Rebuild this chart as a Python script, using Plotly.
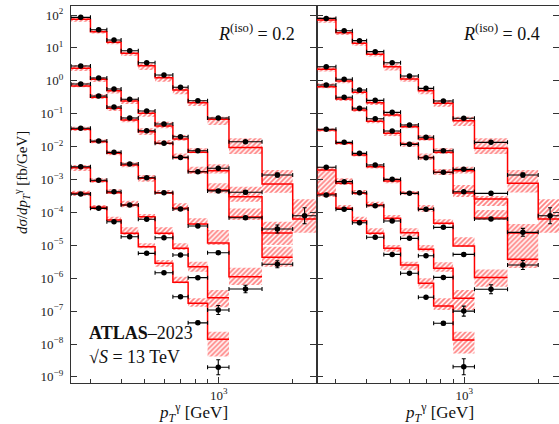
import math
import plotly.graph_objects as go

# ---------------- data ----------------
bin_edges = [250, 300, 350, 400, 470, 550, 650, 750, 900, 1100, 1500, 2000, 2500]

y_tickvals = [1e2, 1e1, 1e0, 1e-1, 1e-2, 1e-3, 1e-4, 1e-5, 1e-6, 1e-7, 1e-8, 1e-9]
y_ticktext = ["10<sup>2</sup>", "10<sup>1</sup>", "10<sup>0</sup>", "10<sup>\u22121</sup>",
              "10<sup>\u22122</sup>", "10<sup>\u22123</sup>", "10<sup>\u22124</sup>",
              "10<sup>\u22125</sup>", "10<sup>\u22126</sup>", "10<sup>\u22127</sup>",
              "10<sup>\u22128</sup>", "10<sup>\u22129</sup>"]
x_tickvals = [1000]
x_ticktext = ["10<sup>3</sup>"]
x_minor_ticks = [300, 400, 500, 600, 700, 800, 900, 2000]

# ---- R(iso) = 0.2 : data, theory, theory band up/down (%), data error (%)
d02A = [85, 35.7, 17.4, 8.2, 3.55, 1.50, 0.635, 0.248, 0.074, 0.0141, 1.37e-3, 7.9e-5]
t02A = [74, 31, 14.8, 6.85, 2.88, 1.24, 0.525, 0.216, 0.0676, 9.4e-3, 7.3e-4, 6.3e-5]
u02A = [15, 18, 17, 12, 18, 21, 26, 21, 20, 90, 166, 297]
n02A = [15, 11, 13, 17, 26, 24, 26, 21, 33, 37, 46, 62]
e02A = [2, 2, 2, 2, 2, 3, 3, 3, 4, 8, 15, 75]

d02B = [2.82, 1.22, 0.564, 0.274, 0.121, 0.0486, 0.0200, 7.5e-3, 2.19e-3, 4.1e-4, 3.13e-5]
t02B = [2.40, 1.11, 0.500, 0.243, 0.103, 0.0423, 0.0170, 6.7e-3, 1.85e-3, 3.0e-4, 2.37e-5]
u02B = [26, 17, 21, 17, 23, 35, 32, 32, 57, 101, 121]
n02B = [17, 17, 17, 19, 21, 15, 11, 7, 17, 30, 57]
e02B = [2, 2, 2, 2, 3, 3, 3, 4, 6, 12, 32]

d02C = [0.80, 0.345, 0.160, 0.074, 0.0304, 0.0126, 4.7e-3, 1.73e-3, 4.5e-4, 6.9e-5, 2.65e-6]
t02C = [0.695, 0.315, 0.146, 0.0644, 0.0284, 0.0126, 4.7e-3, 1.73e-3, 4.8e-4, 7.2e-5, 4.3e-6]
u02C = [26, 26, 20, 23, 27, 26, 32, 42, 60, 84, 110]
n02C = [9, 11, 17, 15, 21, 11, 11, 15, 21, 19, 48]
e02C = [2, 2, 2, 2, 3, 3, 4, 5, 8, 10, 28]

d02D = [0.036, 0.0148, 6.7e-3, 2.96e-3, 1.13e-3, 3.97e-4, 1.27e-4, 3.86e-5, 5.96e-6, 4.7e-7]
t02D = [0.0336, 0.0141, 6.25e-3, 2.76e-3, 1.09e-3, 3.9e-4, 1.33e-4, 4.45e-5, 1.17e-5, 1.11e-6]
u02D = [20, 18, 20, 23, 26, 23, 42, 49, 149, 88]
n02D = [11, 11, 13, 15, 21, 7, 15, 7, 13, 44]
e02D = [2, 2, 2, 3, 3, 4, 5, 6, 10, 30]

d02E = [2.45e-3, 9.5e-4, 4.26e-4, 1.68e-4, 6.2e-5, 1.70e-5, 5.1e-6, 1.04e-6, 1.08e-7]
t02E = [2.29e-3, 9.0e-4, 3.97e-4, 1.68e-4, 7.4e-5, 2.32e-5, 8.1e-6, 2.24e-6, 2.55e-7]
u02E = [21, 21, 27, 35, 21, 52, 42, 42, 71]
n02E = [21, 11, 9, 15, 21, 11, 11, 30, 49]
e02E = [2, 2, 3, 3, 4, 5, 6, 8, 37]

d02F = [3.6e-4, 1.33e-4, 5.2e-5, 1.82e-5, 5.7e-6, 1.47e-6, 2.74e-7, 4.4e-8, 1.96e-9]
t02F = [3.8e-4, 1.43e-4, 5.9e-5, 2.32e-5, 9.1e-6, 2.84e-6, 7.5e-7, 1.73e-7, 1.39e-8]
u02F = [20, 17, 26, 52, 27, 26, 48, 42, 70]
n02F = [17, 17, 11, 11, 11, 21, 7, 21, 70]
e02F = [3, 3, 3, 4, 5, 6, 8, 12, 69]

# ---- R(iso) = 0.4
d04A = [79, 33.3, 16.6, 7.7, 3.55, 1.40, 0.59, 0.243, 0.0725, 0.0135, 1.37e-3, 7.9e-5]
t04A = [70.5, 29, 13.8, 6.4, 2.69, 1.135, 0.500, 0.207, 0.0612, 8.9e-3, 7.7e-4, 6.3e-5]
u04A = [21, 15, 12, 15, 27, 23, 18, 26, 32, 101, 154, 297]
n04A = [17, 15, 15, 15, 24, 17, 22, 21, 31, 33, 48, 62]
e04A = [2, 2, 2, 2, 2, 3, 3, 3, 4, 8, 15, 75]

d04B = [2.69, 1.11, 0.525, 0.255, 0.110, 0.0454, 0.0192, 7.5e-3, 2.04e-3, 3.8e-4, 2.48e-5]
t04B = [2.24, 0.986, 0.448, 0.216, 0.0914, 0.0403, 0.0170, 6.7e-3, 1.85e-3, 2.55e-4, 2.37e-5]
u04B = [20, 15, 17, 15, 21, 21, 32, 32, 32, 23, 88]
n04B = [15, 15, 13, 15, 11, 11, 11, 11, 17, 39, 57]
e04B = [2, 2, 2, 2, 3, 3, 3, 4, 6, 12, 32]

d04C = [0.745, 0.315, 0.146, 0.0705, 0.0298, 0.0117, 4.6e-3, 1.66e-3, 4.26e-4, 6.3e-5, 2.52e-6]
t04C = [0.662, 0.280, 0.130, 0.0587, 0.0254, 0.0120, 4.7e-3, 1.66e-3, 3.9e-4, 6.8e-5, 3.76e-6]
u04C = [27, 17, 21, 17, 17, 17, 32, 26, 75, 75, 172]
n04C = [11, 13, 11, 13, 17, 17, 17, 17, 24, 13, 46]
e04C = [2, 2, 2, 2, 3, 3, 4, 5, 8, 10, 37]

d04D = [0.0336, 0.0135, 6.25e-3, 2.76e-3, 1.01e-3, 3.8e-4, 1.24e-4, 3.52e-5, 5.3e-6, 4.6e-7]
t04D = [0.032, 0.0126, 5.6e-3, 2.45e-3, 9.0e-4, 3.8e-4, 1.24e-4, 4.7e-5, 9.5e-6, 1.06e-6]
u04D = [13, 12, 17, 21, 21, 17, 35, 32, 84, 75]
n04D = [11, 11, 11, 11, 15, 11, 15, 11, 5, 48]
e04D = [2, 2, 2, 3, 3, 4, 5, 6, 10, 37]

d04E = [2.35e-3, 8.6e-4, 3.97e-4, 1.60e-4, 5.5e-5, 1.63e-5, 4.8e-6, 1.06e-6, 1.0e-7]
t04E = [1.95e-3, 7.7e-4, 3.8e-4, 1.68e-4, 6.6e-5, 2.42e-5, 7.6e-6, 2.0e-6, 2.45e-7]
u04E = [26, 42, 26, 26, 26, 36, 35, 52, 79]
n04E = [81, 11, 11, 15, 15, 24, 15, 21, 56]
e04E = [2, 2, 3, 3, 4, 5, 6, 8, 42]

d04F = [3.38e-4, 1.24e-4, 4.86e-5, 1.75e-5, 5.3e-6, 1.41e-6, 2.63e-7, 4.26e-8, 2.04e-9]
t04F = [3.6e-4, 1.33e-4, 5.6e-5, 2.32e-5, 8.1e-6, 2.52e-6, 7.0e-7, 1.43e-7, 1.32e-8]
u04F = [15, 26, 32, 42, 26, 26, 42, 71, 79]
n04F = [19, 11, 17, 11, 21, 30, 30, 24, 61]
e04F = [3, 3, 3, 4, 5, 6, 8, 12, 75]

panel_r02 = [(d02A, t02A, u02A, n02A, e02A), (d02B, t02B, u02B, n02B, e02B),
             (d02C, t02C, u02C, n02C, e02C), (d02D, t02D, u02D, n02D, e02D),
             (d02E, t02E, u02E, n02E, e02E), (d02F, t02F, u02F, n02F, e02F)]
panel_r04 = [(d04A, t04A, u04A, n04A, e04A), (d04B, t04B, u04B, n04B, e04B),
             (d04C, t04C, u04C, n04C, e04C), (d04D, t04D, u04D, n04D, e04D),
             (d04E, t04E, u04E, n04E, e04E), (d04F, t04F, u04F, n04F, e04F)]

# ---------------- figure ----------------
RED = "#ff0000"
fig = go.Figure()


def add_panel(series, xa, ya):
    # bands first
    for d, t, u, n, e in series:
        nb = len(t)
        bx, by = [], []
        for i in range(nb):
            lo_e, hi_e = bin_edges[i], bin_edges[i + 1]
            hi = t[i] * (1 + u[i] / 100.0)
            lo = t[i] * (1 - n[i] / 100.0)
            bx += [lo_e, hi_e, hi_e, lo_e, lo_e, None]
            by += [lo, lo, hi, hi, lo, None]
        fig.add_trace(go.Scatter(
            x=bx, y=by, mode="lines", fill="toself",
            line=dict(width=0, color="rgba(255,0,0,0)"),
            fillcolor="rgba(255,0,0,0.05)",
            fillpattern=dict(shape="/", fgcolor=RED, bgcolor="rgba(255,255,255,0)",
                             size=3.5, solidity=0.5, fillmode="overlay"),
            xaxis=xa, yaxis=ya, hoverinfo="skip", showlegend=False))
    # theory step lines
    for d, t, u, n, e in series:
        nb = len(t)
        fig.add_trace(go.Scatter(
            x=bin_edges[:nb + 1], y=list(t) + [t[-1]], mode="lines",
            line=dict(color=RED, width=1.5, shape="hv"),
            xaxis=xa, yaxis=ya, hoverinfo="skip", showlegend=False))
    # data points
    for d, t, u, n, e in series:
        nb = len(d)
        lo_e = bin_edges[:nb]
        hi_e = bin_edges[1:nb + 1]
        xc = [math.sqrt(a * b) for a, b in zip(lo_e, hi_e)]
        fig.add_trace(go.Scatter(
            x=xc, y=d, mode="markers",
            marker=dict(color="black", size=5.5),
            error_x=dict(type="data", symmetric=False,
                         array=[b - c for b, c in zip(hi_e, xc)],
                         arrayminus=[c - a for a, c in zip(lo_e, xc)],
                         color="black", thickness=1.1, width=2),
            error_y=dict(type="data", symmetric=False,
                         array=[v * r / 100.0 for v, r in zip(d, e)],
                         arrayminus=[v * (1 - 1 / (1 + r / 100.0)) for v, r in zip(d, e)],
                         color="black", thickness=1.1, width=2),
            xaxis=xa, yaxis=ya, hoverinfo="skip", showlegend=False))


add_panel(panel_r02, "x", "y")
add_panel(panel_r04, "x2", "y2")

AX = "#333333"
FONT = "Liberation Serif"
split = 245.5 / 488.0

common_x = dict(type="log", showgrid=False, zeroline=False, ticks="inside", ticklen=6,
                tickcolor=AX, showline=True, linecolor=AX, linewidth=1.2, mirror=True,
                tickmode="array", tickvals=x_tickvals, ticktext=x_ticktext,
                tickfont=dict(family=FONT, size=13, color="#222"),
                minor=dict(tickmode="array", tickvals=x_minor_ticks, ticks="inside",
                           ticklen=4, tickcolor=AX, showgrid=False))
common_y = dict(type="log", showgrid=False, zeroline=False, ticks="inside", ticklen=6,
                tickcolor=AX, showline=True, linecolor=AX, linewidth=1.2,
                range=[-9.185, 2.274], tickmode="array", tickvals=y_tickvals,
                ticktext=y_ticktext, tickfont=dict(family=FONT, size=13, color="#222"))

fig.update_layout(
    width=559, height=424,
    margin=dict(l=71, r=0, t=6, b=41),
    plot_bgcolor="white", paper_bgcolor="white",
    showlegend=False,
    font=dict(family=FONT, size=13, color="#222"),
    xaxis=dict(common_x, domain=[0, split], range=[math.log10(250), math.log10(2500)], anchor="y"),
    xaxis2=dict(common_x, domain=[split, 1.0], range=[math.log10(250), 3.3857], anchor="y2"),
    yaxis=dict(common_y, domain=[0, 1], anchor="x", mirror="ticks", ticklabelstandoff=4),
    yaxis2=dict(common_y, domain=[0, 1], anchor="x2", mirror="ticks", showticklabels=False),
)


def px_x(px):
    return (px - 71) / 488.0


def px_y(py):
    return (383 - py) / 377.0


ann = [
    dict(text="<i>R</i><sup>(iso)</sup> = 0.2", x=px_x(256), y=px_y(32), size=18, xa="center"),
    dict(text="<i>R</i><sup>(iso)</sup> = 0.4", x=px_x(501), y=px_y(32), size=18, xa="center"),
    dict(text="<b>ATLAS</b>\u20132023", x=px_x(87), y=px_y(333), size=18, xa="left"),
    dict(text="\u221a<i>S</i> = 13 TeV", x=px_x(87), y=px_y(357), size=18, xa="left"),
    dict(text="<i>p</i><sub><i>T</i></sub><sup>\u03b3</sup> [GeV]", x=px_x(193), y=px_y(413), size=17, xa="center"),
    dict(text="<i>p</i><sub><i>T</i></sub><sup>\u03b3</sup> [GeV]", x=px_x(439), y=px_y(413), size=17, xa="center"),
]
for a in ann:
    fig.add_annotation(text=a["text"], x=a["x"], y=a["y"], xref="paper", yref="paper",
                       xanchor=a["xa"], yanchor="middle", showarrow=False,
                       font=dict(family=FONT, size=a["size"], color="#111"))

fig.add_annotation(text="<i>d\u03c3</i>/<i>dp</i><sub><i>T</i></sub><sup>\u03b3</sup> [fb/GeV]",
                   x=px_x(22), y=px_y(183), xref="paper", yref="paper",
                   xanchor="center", yanchor="middle", textangle=-90, showarrow=False,
                   font=dict(family=FONT, size=15, color="#111"))

fig.write_html("out.html")
